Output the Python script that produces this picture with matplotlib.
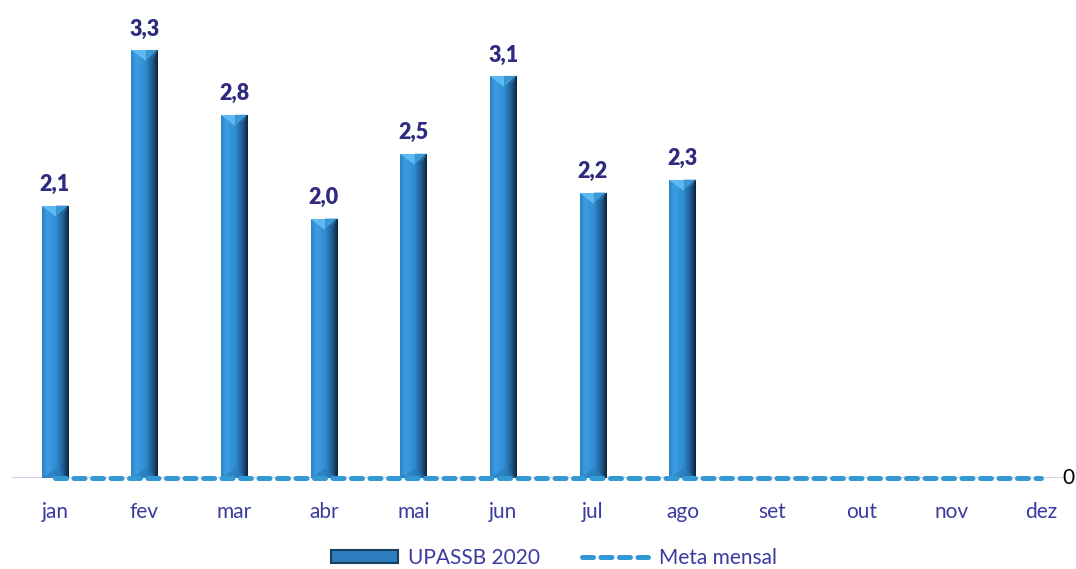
import matplotlib.pyplot as plt
import numpy as np
from matplotlib.colors import LinearSegmentedColormap
from matplotlib.patches import Polygon, Patch
from matplotlib.lines import Line2D

plt.rcParams['font.family'] = ['Lato', 'DejaVu Sans']

meses = ["jan", "fev", "mar", "abr", "mai", "jun", "jul", "ago", "set", "out", "nov", "dez"]
upassb_2020 = [2.1, 3.3, 2.8, 2.0, 2.5, 3.1, 2.2, 2.3]
meta_mensal = [0] * 12

cor_texto = "#2E2A80"
cor_ticks = "#3B3AA0"
cor_meta = "#3399D4"

# gradiente horizontal das barras (efeito chanfrado)
grad = LinearSegmentedColormap.from_list(
    "barra",
    [(0.0, "#2C82C4"), (0.2, "#3C9DE2"), (0.55, "#2F8BD0"), (0.8, "#1D5A8E"), (1.0, "#0E2238")],
)

fig = plt.figure(figsize=(10.76, 5.69), dpi=100)
ax = fig.add_axes([10 / 1076, (569 - 478) / 569, 1076 / 1076, 467 / 569])
ax.set_xlim(-0.5, 11.5)
ax.set_ylim(0, 3.6)

largura = 0.29
x = np.arange(len(upassb_2020))
barras = ax.bar(x, upassb_2020, width=largura, color="#2E8BD0", zorder=2)

gx = np.linspace(0, 1, 256).reshape(1, -1)
cap = 0.085
for xi, v, b in zip(x, upassb_2020, barras):
    x0, x1 = xi - largura / 2, xi + largura / 2
    img = ax.imshow(gx, cmap=grad, extent=[x0, x1, 0, v], aspect="auto", zorder=3)
    img.set_clip_path(b)
    # chanfro no topo
    meio = xi + largura * 0.05
    ax.add_patch(Polygon([(x0, v), (meio, v), (meio, v - cap)], closed=True,
                         facecolor="#5DB9F2", edgecolor="none", zorder=4))
    ax.add_patch(Polygon([(meio, v), (x1, v), (meio, v - cap)], closed=True,
                         facecolor="#3A98D6", edgecolor="none", zorder=4))
    ax.add_patch(Polygon([(x1, v), (x1 - largura * 0.12, v - cap * 0.6), (meio, v - cap)], closed=True,
                         facecolor="#27689E", edgecolor="none", zorder=4))
    # chanfro na base
    ax.add_patch(Polygon([(x0, 0), (meio, cap * 0.9), (x1, 0)], closed=True,
                         facecolor="#2A79B8", edgecolor="none", alpha=0.6, zorder=4))
    ax.text(xi, v + 0.08, f"{v:.1f}".replace(".", ","), ha="center", va="bottom",
            fontsize=15.5, fontweight="heavy", color=cor_texto)

# linha do eixo
ax.hlines(0, -0.48, 11.24, color="#C9C8EA", linewidth=1.2, zorder=1)

# meta mensal
xm = np.arange(len(meta_mensal))
ax.plot(xm, meta_mensal, linestyle=(0, (2.2, 1.5)), color=cor_meta, linewidth=3.6,
        dash_capstyle="round", clip_on=False, zorder=5)
ax.text(11.24, meta_mensal[-1], "0", ha="left", va="center", fontsize=15, color="black", clip_on=False)

ax.set_xticks(np.arange(len(meses)))
ax.set_xticklabels(meses, fontsize=15, color=cor_ticks)
ax.tick_params(axis="x", length=0, pad=17)
ax.set_yticks([])
for s in ax.spines.values():
    s.set_visible(False)

handles = [
    Patch(facecolor="#2E7DBE", edgecolor="#17405F", linewidth=1.5),
    Line2D([0], [0], linestyle=(0, (2.2, 1.5)), color=cor_meta, linewidth=3.6, dash_capstyle="round"),
]
fig.legend(handles, ["UPASSB 2020", "Meta mensal"], loc="center", bbox_to_anchor=(554 / 1076, 1 - 558 / 569),
           ncol=2, frameon=False, fontsize=15, labelcolor=cor_ticks, handlelength=3.2, handleheight=0.6,
           columnspacing=2.0, handletextpad=0.5)

fig.savefig("out.png", dpi=100)
